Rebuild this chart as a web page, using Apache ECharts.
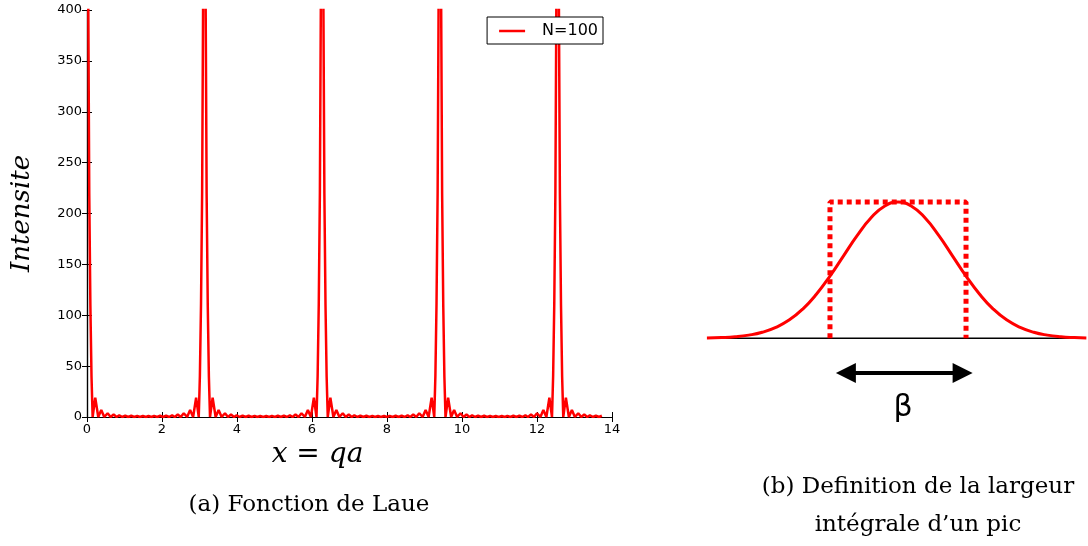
<!DOCTYPE html>
<html>
<head>
<meta charset="utf-8">
<script src="https://cdn.jsdelivr.net/npm/echarts@6/dist/echarts.min.js"></script>
<style>html,body{margin:0;padding:0;background:#fff}#c{width:1088px;height:546px}</style>
</head>
<body>
<div id="c"></div>
<script>
// ---- Panel (a): Laue function, N=100 ----
const xTicks = [0, 2, 4, 6, 8, 10, 12, 14];
const yTicks = [0, 50, 100, 150, 200, 250, 300, 350, 400];
const peakX = [0, 3.13, 6.27, 9.41, 12.55];              // main peak positions
const profOffset = [0, 0.035, 0.06, 0.09, 0.12, 0.15, 0.22, 0.30, 0.38, 0.46, 0.55, 0.63,
                    0.71, 0.79, 0.86, 0.94, 1.02, 1.10, 1.18, 1.26, 1.34, 1.41, 1.49, 1.57];
const profY = [900, 400, 220, 110, 40, 0, 19, 0, 6.8, 0, 3.7, 0,
               2.4, 0, 1.7, 0, 1.4, 0, 1.2, 0, 1.1, 0, 1.0, 0];   // one peak's shape (clipped at 400)
const xEnd = 13.75;
const seriesName = 'N=100';

// ---- Panel (b): integral breadth ----
const gaussX = [-3.52, -3.25, -3, -2.75, -2.5, -2.25, -2, -1.75, -1.5, -1.25, -1, -0.75, -0.5, -0.25, 0,
                0.25, 0.5, 0.75, 1, 1.25, 1.5, 1.75, 2, 2.25, 2.5, 2.75, 3, 3.25, 3.47];
const gaussY = [0.002, 0.005, 0.011, 0.023, 0.044, 0.080, 0.135, 0.216, 0.325, 0.458, 0.607, 0.755, 0.882, 0.969, 1,
                0.969, 0.882, 0.755, 0.607, 0.458, 0.325, 0.216, 0.135, 0.080, 0.044, 0.023, 0.011, 0.005, 0.002];
const rectX = [-1.253, 1.253];
const rectTop = 1;
const baseX = [-3.33, 3.19];
const arrowX = [-0.96, 1.19];
const arrowY = -0.255;

// build Laue line from peaks + profile
const laue = [];
peakX.forEach((p, i) => {
  if (i > 0) {
    for (let k = profOffset.length - 2; k >= 1; k--) laue.push([p - profOffset[k], profY[k]]);
  }
  laue.push([p, profY[0]]);
  for (let k = 1; k < profOffset.length; k++) {
    const x = p + profOffset[k];
    if (x > xEnd) break;
    laue.push([x, profY[k]]);
  }
});

const gauss = gaussX.map((x, i) => [x, gaussY[i]]);
const rect = [[rectX[0], 0], [rectX[0], rectTop], [rectX[1], rectTop], [rectX[1], 0]];
const base = baseX.map(x => [x, 0]);

const chart = echarts.init(document.getElementById('c'), null, {renderer: 'canvas'});
const axisLine = {show: true, lineStyle: {color: '#000', width: 1.2}};
const tickIn = {show: true, inside: true, length: 5, lineStyle: {color: '#000', width: 1}};
const lblFont = {color: '#000', fontSize: 13, fontFamily: 'DejaVu Sans'};

chart.setOption({
  animation: false,
  backgroundColor: '#fff',
  grid: [
    {left: 87, top: 10, width: 525, height: 407, containLabel: false},
    {left: 708, top: 202, width: 380, height: 218, containLabel: false}
  ],
  legend: {
    data: [seriesName],
    right: 485, top: 17,
    backgroundColor: '#fff',
    borderColor: '#000', borderWidth: 1, borderRadius: 0,
    padding: [6, 5, 5, 12],
    icon: 'rect',
    itemWidth: 26, itemHeight: 2.5,
    textStyle: {fontSize: 16, fontFamily: 'DejaVu Sans', color: '#000', padding: [0, 0, 0, 12]}
  },
  xAxis: [
    {type: 'value', gridIndex: 0, min: 0, max: 14, interval: 2, position: 'bottom',
     axisLine: axisLine, axisTick: tickIn, splitLine: {show: false},
     axisLabel: Object.assign({margin: 6, formatter: v => xTicks.includes(v) ? String(v) : ''}, lblFont),
     name: 'x = qa', nameLocation: 'middle', nameGap: 17,
     nameTextStyle: {fontFamily: 'DejaVu Serif', fontStyle: 'italic', fontSize: 28, color: '#000', padding: [0, 64, 0, 0]}},
    {type: 'value', gridIndex: 0, min: 0, max: 14, interval: 2, position: 'top',
     axisLine: axisLine, axisTick: tickIn, splitLine: {show: false}, axisLabel: {show: false}},
    {type: 'value', gridIndex: 1, min: -3.5, max: 3.5, show: false}
  ],
  yAxis: [
    {type: 'value', gridIndex: 0, min: 0, max: 400, interval: 50, position: 'left',
     axisLine: axisLine, axisTick: tickIn, splitLine: {show: false},
     axisLabel: Object.assign({margin: 5, formatter: v => yTicks.includes(v) ? String(v) : ''}, lblFont),
     name: 'Intensite', nameLocation: 'middle', nameGap: 52,
     nameTextStyle: {fontFamily: 'DejaVu Serif', fontStyle: 'italic', fontSize: 26, color: '#000'}},
    {type: 'value', gridIndex: 0, min: 0, max: 400, interval: 50, position: 'right',
     axisLine: axisLine, axisTick: tickIn, splitLine: {show: false}, axisLabel: {show: false}},
    {type: 'value', gridIndex: 1, min: -0.6, max: 1, show: false}
  ],
  series: [
    {name: seriesName, type: 'line', xAxisIndex: 0, yAxisIndex: 0, data: laue,
     symbol: 'none', clip: true, lineStyle: {color: '#ff0000', width: 2.5}, itemStyle: {color: '#ff0000'}},
    {name: 'base', type: 'line', xAxisIndex: 2, yAxisIndex: 2, data: base, symbol: 'none',
     lineStyle: {color: '#000', width: 1.5}, silent: true},
    {name: 'rect', type: 'line', xAxisIndex: 2, yAxisIndex: 2, data: rect, symbol: 'none', clip: false,
     lineStyle: {color: '#ff0000', width: 5, type: [5, 4], cap: 'butt'}, silent: true},
    {name: 'gauss', type: 'line', xAxisIndex: 2, yAxisIndex: 2, data: gauss, symbol: 'none', smooth: true, clip: false,
     lineStyle: {color: '#ff0000', width: 3}, silent: true,
     markLine: {silent: true, symbol: ['triangle', 'triangle'], symbolSize: [20, 20], label: {show: false},
       lineStyle: {color: '#000', width: 4, type: 'solid'}, itemStyle: {color: '#000'},
       data: [[{coord: [arrowX[0], arrowY]}, {coord: [arrowX[1], arrowY]}]]}}
  ],
  graphic: [
    {type: 'text', x: 903, y: 408, style: {text: 'β', font: '30px "DejaVu Sans"', fill: '#000', textAlign: 'center', textVerticalAlign: 'middle'}},
    {type: 'text', x: 309, y: 505, style: {text: '(a) Fonction de Laue', font: '23px "DejaVu Serif"', fill: '#000', textAlign: 'center', textVerticalAlign: 'middle'}},
    {type: 'text', x: 918, y: 487, style: {text: '(b) Definition de la largeur', font: '23px "DejaVu Serif"', fill: '#000', textAlign: 'center', textVerticalAlign: 'middle'}},
    {type: 'text', x: 918, y: 525, style: {text: 'intégrale d’un pic', font: '23px "DejaVu Serif"', fill: '#000', textAlign: 'center', textVerticalAlign: 'middle'}}
  ]
});
</script>
</body>
</html>
